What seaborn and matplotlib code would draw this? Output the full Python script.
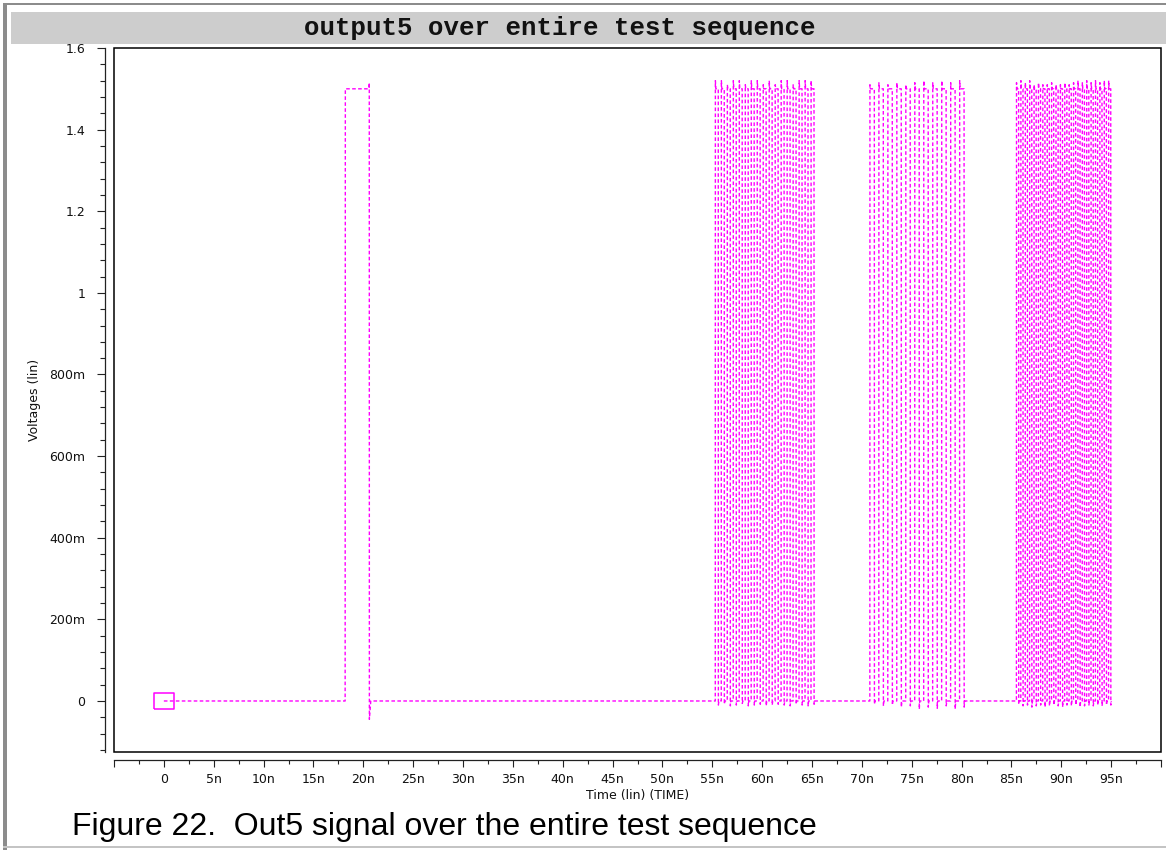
import matplotlib
matplotlib.use("Agg")
import matplotlib.pyplot as plt
from matplotlib.patches import Rectangle
from matplotlib.ticker import FixedLocator, MultipleLocator
import pandas as pd
import seaborn as sns

sns.set_theme(style="white")
plt.rcParams["font.family"] = ["DejaVu Sans"]
plt.rcParams["lines.scale_dashes"] = False

# ---------------- data (time in ns, voltage in V) ----------------
y_ticks = [0.0, 0.2, 0.4, 0.6, 0.8, 1.0, 1.2, 1.4, 1.6]
y_tick_labels = ["0", "200m", "400m", "600m", "800m", "1", "1.2", "1.4", "1.6"]
x_ticks = [0, 5, 10, 15, 20, 25, 30, 35, 40, 45, 50, 55, 60, 65, 70, 75, 80, 85, 90, 95]
x_tick_labels = ["0", "5n", "10n", "15n", "20n", "25n", "30n", "35n", "40n", "45n",
                 "50n", "55n", "60n", "65n", "70n", "75n", "80n", "85n", "90n", "95n"]

high_level = 1.50

# lone pulse near 20 ns (breakpoints)
pulse_t = [0.0, 18.18, 18.20, 20.58, 20.60, 20.61, 20.75]
pulse_v = [0.0, 0.0, 1.50, 1.50, 1.515, -0.045, 0.0]

# burst 1: 55 ns .. 65 ns
b1_rise = [55.3, 55.9, 56.5, 57.1, 57.7, 58.3, 58.9, 59.5, 60.1, 60.7, 61.3, 61.9,
           62.5, 63.1, 63.7, 64.3, 64.9]
b1_fall = [55.6, 56.2, 56.8, 57.4, 58.0, 58.6, 59.2, 59.8, 60.4, 61.0, 61.6, 62.2,
           62.8, 63.4, 64.0, 64.6, 65.2]
b1_peak = [1.52, 1.52, 1.51, 1.52, 1.52, 1.51, 1.52, 1.52, 1.51, 1.52, 1.51, 1.52,
           1.52, 1.51, 1.52, 1.52, 1.52]
b1_trough = [-0.01, -0.008, -0.012, -0.01, -0.006, -0.012, -0.01, -0.008, -0.012, -0.01,
             -0.008, -0.01, -0.012, -0.008, -0.01, -0.012, -0.008]

# burst 2: 71 ns .. 80 ns
b2_rise = [70.8, 71.7, 72.6, 73.5, 74.4, 75.3, 76.2, 77.1, 78.0, 78.9, 79.8]
b2_fall = [71.25, 72.15, 73.05, 73.95, 74.85, 75.75, 76.65, 77.55, 78.45, 79.35, 80.25]
b2_peak = [1.51, 1.515, 1.51, 1.515, 1.51, 1.515, 1.52, 1.515, 1.52, 1.515, 1.52]
b2_trough = [-0.008, -0.012, -0.01, -0.015, -0.012, -0.02, -0.015, -0.018, -0.012,
             -0.02, -0.015]

# burst 3: 85.5 ns .. 95 ns
b3_rise = [85.5, 85.94, 86.38, 86.82, 87.26, 87.7, 88.14, 88.58, 89.02, 89.46, 89.9,
           90.34, 90.78, 91.22, 91.66, 92.1, 92.54, 92.98, 93.42, 93.86, 94.3, 94.74]
b3_fall = [85.72, 86.16, 86.6, 87.04, 87.48, 87.92, 88.36, 88.8, 89.24, 89.68, 90.12,
           90.56, 91.0, 91.44, 91.88, 92.32, 92.76, 93.2, 93.64, 94.08, 94.52, 94.96]
b3_peak = [1.515, 1.52, 1.515, 1.52, 1.51, 1.515, 1.51, 1.51, 1.515, 1.51, 1.51,
           1.515, 1.51, 1.515, 1.52, 1.515, 1.52, 1.515, 1.52, 1.515, 1.52, 1.52]
b3_trough = [-0.008, -0.012, -0.01, -0.015, -0.012, -0.01, -0.015, -0.012, -0.01,
             -0.012, -0.015, -0.01, -0.012, -0.01, -0.015, -0.012, -0.01, -0.012,
             -0.01, -0.012, -0.01, -0.01]


def square_burst(rises, falls, peaks, troughs):
    """Expand edge times into a piecewise-linear pulse train."""
    t, v = [], []
    for r, f, p, q in zip(rises, falls, peaks, troughs):
        t += [r, r + 0.01, r + 0.06, f, f + 0.01, f + 0.06]
        v += [0.0, p, high_level, high_level, q, 0.0]
    return t, v


t_all, v_all = list(pulse_t), list(pulse_v)
for burst in ((b1_rise, b1_fall, b1_peak, b1_trough),
              (b2_rise, b2_fall, b2_peak, b2_trough),
              (b3_rise, b3_fall, b3_peak, b3_trough)):
    bt, bv = square_burst(*burst)
    t_all += bt
    v_all += bv

wave = pd.DataFrame({"time": t_all, "voltage": v_all})

# ---------------- figure ----------------
W, H = 1166, 850
fig = plt.figure(figsize=(W / 100, H / 100), dpi=100)
fig.patch.set_facecolor("white")

# page frame and title bar
fig.add_artist(Rectangle((3 / W, 0), 4 / W, 1 - 3 / H, transform=fig.transFigure,
                         facecolor="#8c8c8c", edgecolor="none"))
fig.add_artist(Rectangle((3 / W, 1 - 5 / H), 1 - 3 / W, 2 / H, transform=fig.transFigure,
                         facecolor="#8c8c8c", edgecolor="none"))
fig.add_artist(Rectangle((3 / W, 2 / H), 1 - 3 / W, 2 / H, transform=fig.transFigure,
                         facecolor="#c4c4c4", edgecolor="none"))
fig.add_artist(Rectangle((11 / W, 1 - 44 / H), 1 - 11 / W, 32 / H, transform=fig.transFigure,
                         facecolor="#cdcdcd", edgecolor="none"))
fig.text(304 / W, 1 - 28 / H, "output5 over entire test sequence",
         family="Liberation Mono", weight="bold", fontsize=18.5, color="#111111",
         ha="left", va="center")

ax = fig.add_axes([114 / W, 98 / H, 1047 / W, 704 / H])

sns.lineplot(data=wave, x="time", y="voltage", estimator=None, sort=False,
             color="#ff00ff", linewidth=1.0, ax=ax)
ax.lines[0].set_linestyle((0, (2.6, 1.7)))

# marker on the first sample of the trace
box_marker = [(-1.25, -1.0), (1.25, -1.0), (1.25, 1.0), (-1.25, 1.0), (-1.25, -1.0)]
ax.plot(wave["time"].iloc[:1], wave["voltage"].iloc[:1], linestyle="none",
        marker=box_marker, markersize=14.5, markerfacecolor="none",
        markeredgecolor="#ff00ff", markeredgewidth=1.1, clip_on=False)

ax.set_xlim(-5, 100)
ax.set_ylim(-0.125, 1.6)

# plot frame
ax.add_patch(Rectangle((0, 0), 1, 1, transform=ax.transAxes, fill=False,
                       edgecolor="black", linewidth=1.1, clip_on=False, zorder=5))

for side in ("top", "right"):
    ax.spines[side].set_visible(False)
ax.spines["left"].set_position(("outward", 6.5))
ax.spines["bottom"].set_position(("outward", 5.8))
for side in ("left", "bottom"):
    ax.spines[side].set_color("#222222")
    ax.spines[side].set_linewidth(0.9)

ax.yaxis.set_major_locator(FixedLocator(y_ticks))
ax.set_yticklabels(y_tick_labels)
ax.yaxis.set_minor_locator(MultipleLocator(0.04))

ax.xaxis.set_major_locator(FixedLocator([-5] + x_ticks + [100]))
ax.set_xticklabels([""] + x_tick_labels + [""])
ax.xaxis.set_minor_locator(MultipleLocator(2.5))

ax.tick_params(axis="both", which="both", direction="out", color="#222222",
               width=0.8, labelcolor="#111111", labelsize=9)
ax.tick_params(axis="y", which="major", left=True, length=5.8, pad=8.5)
ax.tick_params(axis="y", which="minor", left=True, length=3.6)
ax.tick_params(axis="x", which="major", bottom=True, length=5.0, pad=4.5)
ax.tick_params(axis="x", which="minor", bottom=True, length=3.0)

ax.set_xlabel("Time (lin) (TIME)", fontsize=9, color="#111111")
ax.set_ylabel("Voltages (lin)", fontsize=9, color="#111111")
ax.xaxis.set_label_coords(0.5, -0.052)
ax.yaxis.set_label_coords(-0.07, 0.5)

fig.text(72 / W, 1 - 835 / H, "Figure 22.  Out5 signal over the entire test sequence",
         family="Liberation Sans", fontsize=23, color="black", ha="left", va="baseline")

fig.savefig("out.png", dpi=100, facecolor="white")
